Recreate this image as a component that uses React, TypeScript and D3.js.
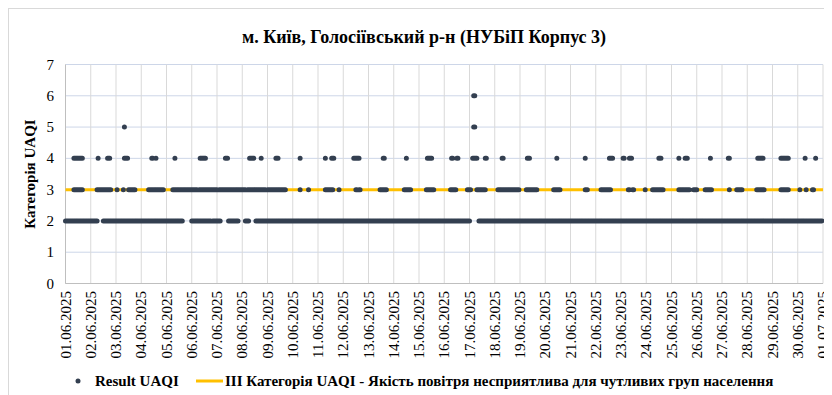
import React from 'react';
import * as d3 from 'd3';

// hours since 01.06.2025 00:00, read as [first, last] runs per UAQI category
const level2Runs = [[0, 30], [36, 111], [120, 138], [140, 147], [155, 164], [171, 174], [181, 384], [393, 719]];
const level3Runs = [
  [8, 16], [30, 43], [49, 49], [55, 55], [60, 66], [79, 93], [102, 125], [127, 144], [146, 171], [173, 190],
  [192, 209], [223, 223], [231, 231], [247, 254], [260, 260], [276, 277], [279, 280], [299, 305], [322, 328],
  [343, 350], [366, 371], [382, 385], [391, 399], [411, 431], [438, 448], [464, 470], [494, 496], [509, 518],
  [535, 536], [539, 540], [551, 551], [558, 568], [583, 593], [597, 600], [608, 614], [631, 631], [638, 643],
  [657, 664], [680, 687], [698, 698], [704, 704], [710, 711],
];
const level4Runs = [
  [8, 16], [31, 31], [40, 42], [56, 59], [82, 83], [86, 86], [104, 104], [128, 133], [152, 154], [175, 179],
  [186, 186], [200, 202], [223, 223], [247, 247], [253, 255], [274, 279], [302, 303], [324, 324], [344, 348],
  [367, 368], [372, 373], [387, 391], [399, 400], [415, 416], [439, 441], [467, 467], [494, 494], [517, 520],
  [530, 531], [536, 538], [564, 566], [583, 583], [589, 591], [613, 613], [630, 631], [658, 663], [680, 687],
  [703, 703], [713, 713],
];
const level5Runs = [[56, 56], [388, 389]];
const level6Runs = [[388, 389]];

const thresholdValue = 3;
const yTicks = [0, 1, 2, 3, 4, 5, 6, 7];
const dateLabels = [
  '01.06.2025', '02.06.2025', '03.06.2025', '04.06.2025', '05.06.2025', '06.06.2025', '07.06.2025', '08.06.2025',
  '09.06.2025', '10.06.2025', '11.06.2025', '12.06.2025', '13.06.2025', '14.06.2025', '15.06.2025', '16.06.2025',
  '17.06.2025', '18.06.2025', '19.06.2025', '20.06.2025', '21.06.2025', '22.06.2025', '23.06.2025', '24.06.2025',
  '25.06.2025', '26.06.2025', '27.06.2025', '28.06.2025', '29.06.2025', '30.06.2025', '01.07.2025',
];

const title = 'м. Київ, Голосіївський р-н (НУБіП Корпус 3)';
const yTitle = 'Категорія UAQI';
const legendDots = 'Result UAQI';
const legendLine = 'III Категорія UAQI - Якість повітря несприятлива для чутливих груп населення';

const width = 832;
const height = 395;
const serif = { fontFamily: '"Liberation Serif"' };
const dotColor = '#333f50';
const lineColor = '#ffc000';

const series = [
  { v: 2, runs: level2Runs },
  { v: 3, runs: level3Runs },
  { v: 4, runs: level4Runs },
  { v: 5, runs: level5Runs },
  { v: 6, runs: level6Runs },
];

const App = () => {
  const margin = { top: 56.5, left: 57.5, right: 815, bottom: 275.5 };

  const x = d3.scaleLinear().domain([0, (dateLabels.length - 1) * 24]).range([margin.left, margin.right]);
  const y = d3.scaleLinear().domain([0, 7]).range([margin.bottom, margin.top]);

  const thresholdLine = d3.line<number>()
    .x(d => x(d))
    .y(() => y(thresholdValue));

  // one path per category, a small circle for every hourly reading
  const dotsPath = (runs: number[][], v: number) => {
    const p = d3.path();
    runs.forEach(([a, b]) => {
      for (let h = a; h <= b; h++) {
        p.moveTo(x(h) + 2.5, y(v));
        p.arc(x(h), y(v), 2.5, 0, Math.PI * 2);
      }
    });
    return p.toString();
  };

  return (
    <svg width={width} height={height}>
      <rect x={0.5} y={0.5} width={830} height={393} fill="#fff" stroke="#d9d9d9" />
      <text x={416} y={35} textAnchor="middle" fontSize={18} fontWeight="bold" style={serif} fill="#000">
        {title}
      </text>

      {/* grid */}
      {yTicks.map(t => (
        <line key={'gy' + t} x1={margin.left} x2={margin.right} y1={y(t)} y2={y(t)} stroke="#cdd6e8" strokeWidth={1} />
      ))}
      {dateLabels.map((d, i) => (
        <line key={'gx' + d} x1={x(i * 24)} x2={x(i * 24)} y1={margin.top} y2={margin.bottom} stroke="#d9d9d9" strokeWidth={1} />
      ))}
      <line x1={margin.left} x2={margin.right} y1={margin.bottom} y2={margin.bottom} stroke="#bfbfbf" />
      <line x1={margin.left} x2={margin.left} y1={margin.top} y2={margin.bottom} stroke="#bfbfbf" />

      {/* y axis */}
      {yTicks.map(t => (
        <text key={'ty' + t} x={46} y={y(t) + 5} textAnchor="end" fontSize={15} style={serif} fill="#000">
          {t}
        </text>
      ))}
      <text
        transform={`translate(27,${(margin.top + margin.bottom) / 2}) rotate(-90)`}
        textAnchor="middle"
        fontSize={15}
        fontWeight="bold"
        style={serif}
        fill="#000"
      >
        {yTitle}
      </text>

      {/* x axis */}
      {dateLabels.map((d, i) => (
        <text
          key={'tx' + d}
          transform={`translate(${x(i * 24) + 5},283) rotate(-90)`}
          textAnchor="end"
          fontSize={15}
          style={serif}
          fill="#000"
        >
          {d}
        </text>
      ))}

      <path d={thresholdLine(x.domain()) || ''} fill="none" stroke={lineColor} strokeWidth={3} />

      {series.map(s => (
        <path key={'s' + s.v} d={dotsPath(s.runs, s.v)} fill={dotColor} />
      ))}

      {/* legend */}
      <circle cx={70} cy={373} r={2.5} fill={dotColor} />
      <text x={87} y={378} fontSize={15} fontWeight="bold" style={serif} fill="#000">
        {legendDots}
      </text>
      <line x1={188} x2={215} y1={373} y2={373} stroke={lineColor} strokeWidth={3} />
      <text x={217} y={378} fontSize={15} fontWeight="bold" style={serif} fill="#000">
        {legendLine}
      </text>
    </svg>
  );
};

export default App;
